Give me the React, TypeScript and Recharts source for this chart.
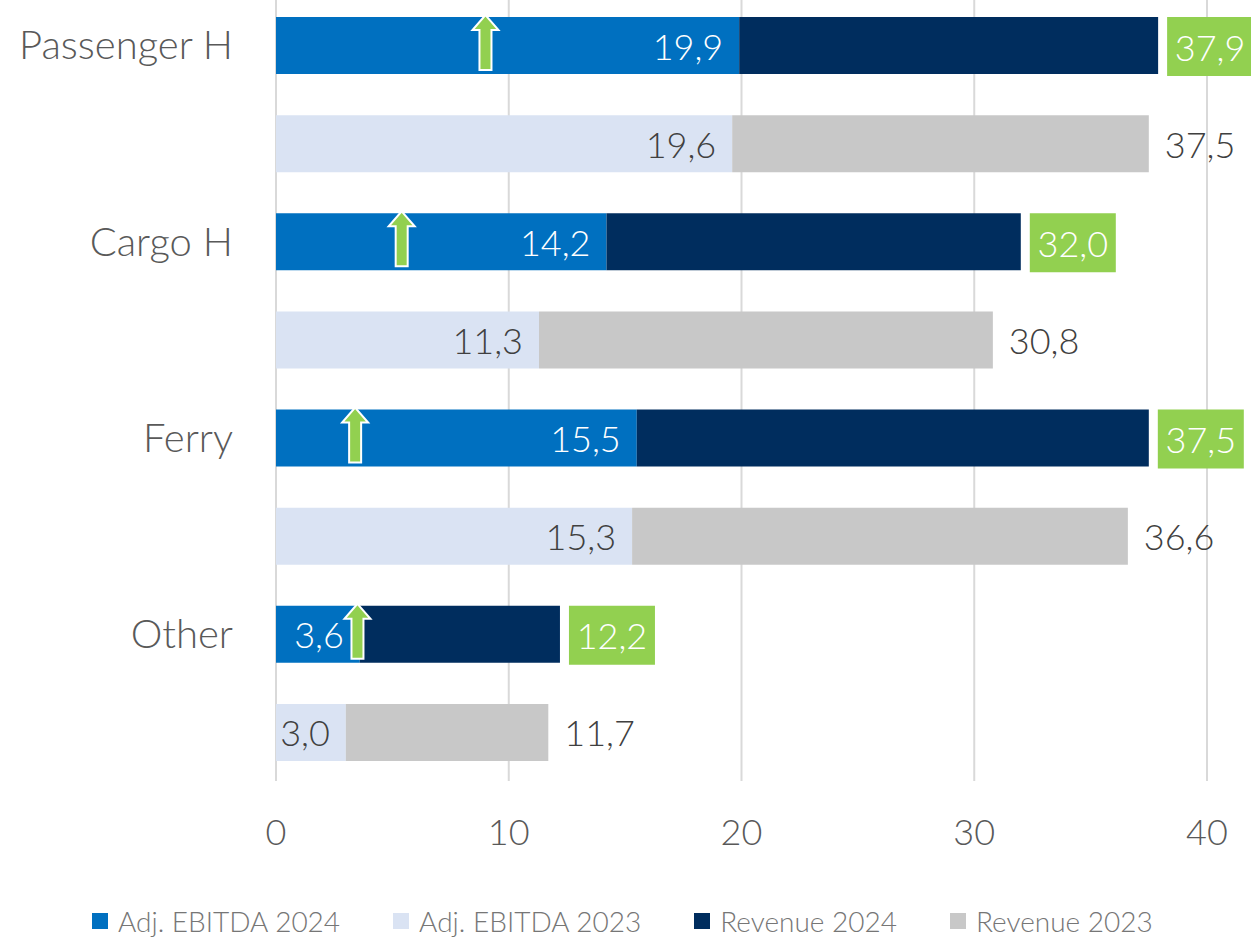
import React from "react";
import {
  ComposedChart, Bar, XAxis, YAxis, CartesianGrid, LabelList, ReferenceDot,
} from "recharts";

// Segmente, je zwei Zeilen (2024 oben, 2023 darunter)
const segments = ["Passenger H", "Cargo H", "Ferry", "Other"];
const ebitda2024 = [19.9, 14.2, 15.5, 3.6];
const ebitda2023 = [19.6, 11.3, 15.3, 3.0];
const revenue2024 = [37.9, 32.0, 37.5, 12.2];
const revenue2023 = [37.5, 30.8, 36.6, 11.7];
// Lage der grünen Pfeile (auf der x-Skala)
const arrowAt = [9.0, 5.4, 3.4, 3.5];
const xTicks = [0, 10, 20, 30, 40];

const C_E24 = "#0070c0";
const C_E23 = "#dae3f3";
const C_R24 = "#002d5e";
const C_R23 = "#c8c8c8";
const GREEN = "#92d050";
const GRID = "#d9d9d9";
const FONT = "Lato, 'Open Sans', sans-serif";

const fmt = (v: number) => v.toFixed(1).replace(".", ",");

const rows: Record<string, any>[] = [];
segments.forEach((s, i) => {
  rows.push({
    key: s, label: s,
    e24: ebitda2024[i], r24: +(revenue2024[i] - ebitda2024[i]).toFixed(1), r24total: revenue2024[i],
  });
  rows.push({
    key: s + " 2023", label: "",
    e23: ebitda2023[i], r23: +(revenue2023[i] - ebitda2023[i]).toFixed(1), r23total: revenue2023[i],
  });
});

const legendItems = [
  { name: "Adj. EBITDA 2024", color: C_E24 },
  { name: "Adj. EBITDA 2023", color: C_E23 },
  { name: "Revenue 2024", color: C_R24 },
  { name: "Revenue 2023", color: C_R23 },
];

function box(p: any) {
  const vb = p.viewBox || {};
  return {
    x: p.x ?? vb.x, y: p.y ?? vb.y,
    w: p.width ?? vb.width, h: p.height ?? vb.height,
  };
}

const insideLabel = (color: string) => (p: any) => {
  if (p.value == null || p.value === 0) return null;
  const { x, y, w, h } = box(p);
  return (
    <text x={x + w - 16} y={y + h / 2} textAnchor="end" dominantBaseline="central"
      fill={color} fontSize={36} fontWeight={300} fontFamily={FONT}>
      {fmt(Number(p.value))}
    </text>
  );
};

function GreenTotal(p: any) {
  if (p.value == null) return null;
  const { x, y, w, h } = box(p);
  const bx = x + w + 9;
  return (
    <g>
      <rect x={bx} y={y} width={86} height={h + 2} fill={GREEN} />
      <text x={bx + 43} y={y + h / 2 + 1} textAnchor="middle" dominantBaseline="central"
        fill="#fff" fontSize={36} fontWeight={300} fontFamily={FONT}>
        {fmt(Number(p.value))}
      </text>
    </g>
  );
}

function GreyTotal(p: any) {
  if (p.value == null) return null;
  const { x, y, w, h } = box(p);
  return (
    <text x={x + w + 16} y={y + h / 2} textAnchor="start" dominantBaseline="central"
      fill="#404040" fontSize={36} fontWeight={300} fontFamily={FONT}>
      {fmt(Number(p.value))}
    </text>
  );
}

function UpArrow(p: any) {
  const { cx, cy } = p;
  const pts = [
    [cx, cy - 30], [cx + 13, cy - 15], [cx + 6, cy - 15], [cx + 6, cy + 25],
    [cx - 6, cy + 25], [cx - 6, cy - 15], [cx - 13, cy - 15],
  ].map((q) => q.join(",")).join(" ");
  return <polygon points={pts} fill={GREEN} stroke="#fff" strokeWidth={2} />;
}

export default function App() {
  return (
    <div style={{ position: "absolute", left: 0, top: 0, width: 1251, height: 940, background: "#fff", overflow: "hidden" }}>
      <div style={{ position: "absolute", left: 0, top: -4 }}>
        <ComposedChart width={1251} height={944} data={rows} layout="vertical"
          margin={{ top: 0, right: 44, bottom: 79, left: 0 }}>
          <CartesianGrid horizontal={false} stroke={GRID} strokeWidth={2} />
          <XAxis type="number" domain={[0, 40]} ticks={xTicks} axisLine={false} tickLine={false}
            tickSize={0} tickMargin={38} height={80}
            tick={{ fill: "#595959", fontSize: 36, fontWeight: 300, fontFamily: FONT }} />
          <YAxis type="category" dataKey="key" width={276} axisLine={false} tickLine={false}
            tickSize={0} tickMargin={43} interval={0}
            tickFormatter={(v: string) => (v.endsWith(" 2023") ? "" : v)}
            tick={{ fill: "#595959", fontSize: 40, fontWeight: 300, fontFamily: FONT }} />
          <Bar dataKey="e24" stackId="a" fill={C_E24} barSize={57} isAnimationActive={false}>
            <LabelList dataKey="e24" content={insideLabel("#fff")} />
          </Bar>
          <Bar dataKey="e23" stackId="a" fill={C_E23} barSize={57} isAnimationActive={false}>
            <LabelList dataKey="e23" content={insideLabel("#404040")} />
          </Bar>
          <Bar dataKey="r24" stackId="a" fill={C_R24} barSize={57} isAnimationActive={false}>
            <LabelList dataKey="r24total" content={GreenTotal} />
          </Bar>
          <Bar dataKey="r23" stackId="a" fill={C_R23} barSize={57} isAnimationActive={false}>
            <LabelList dataKey="r23total" content={GreyTotal} />
          </Bar>
          {segments.map((s, i) => (
            <ReferenceDot key={s} x={arrowAt[i]} y={s} r={0} shape={UpArrow} />
          ))}
        </ComposedChart>
      </div>
      <div style={{
        position: "absolute", left: 92, top: 904, display: "flex", gap: 53,
        fontFamily: FONT, fontWeight: 300, fontSize: 28, color: "#767676", alignItems: "center",
      }}>
        {legendItems.map((it) => (
          <div key={it.name} style={{ display: "flex", alignItems: "center", gap: 10 }}>
            <span style={{ width: 16, height: 16, background: it.color, display: "inline-block" }} />
            <span>{it.name}</span>
          </div>
        ))}
      </div>
    </div>
  );
}
